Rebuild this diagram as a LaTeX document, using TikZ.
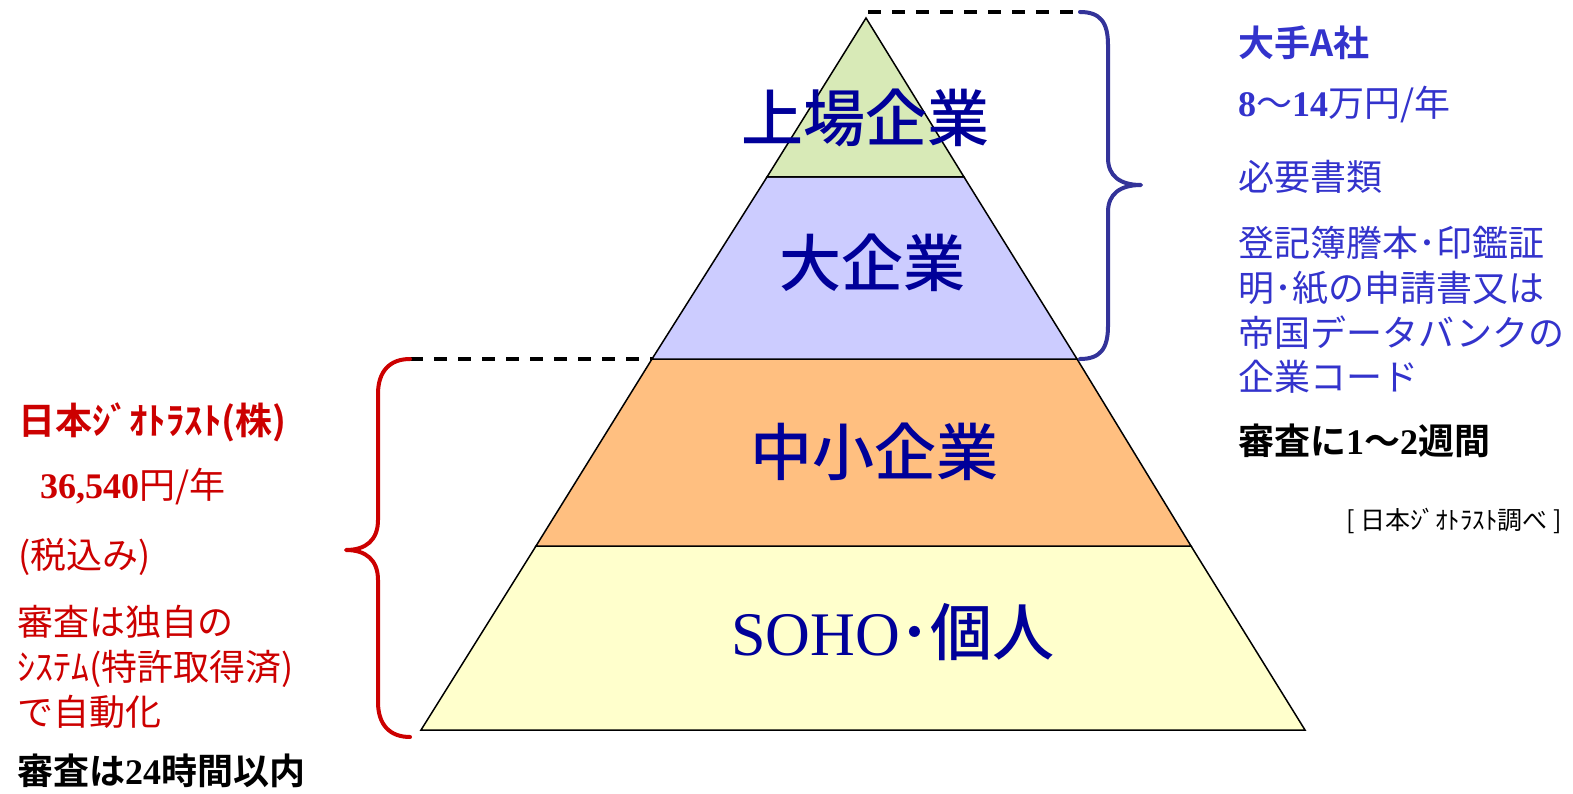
\documentclass[tikz,border=0pt]{standalone}
\usepackage{fontspec}
\setmainfont{Noto Sans CJK JP}[BoldFont={Noto Sans CJK JP Bold}]
\newfontfamily\jp{Noto Sans CJK JP}[BoldFont={Noto Sans CJK JP Bold}]
\newfontfamily\jpmed{Noto Sans CJK JP Medium}
\newfontfamily\tms{Liberation Serif}

\definecolor{blue1}{RGB}{0,0,153}
\definecolor{blue2}{RGB}{51,51,204}
\definecolor{blue3}{RGB}{51,51,153}
\definecolor{red1}{RGB}{204,0,0}
\definecolor{green1}{RGB}{216,234,183}
\definecolor{lav1}{RGB}{204,204,255}
\definecolor{orange1}{RGB}{255,191,128}
\definecolor{yellow1}{RGB}{255,255,204}

\tikzstyle{layer} = [draw=black, line width=1.5pt, line join=miter]
\tikzstyle{layertext} = [text=blue1, inner sep=0pt, font=\jpmed\fontsize{62}{62}\selectfont]
\tikzstyle{bluetext} = [text=blue2, anchor=west, inner sep=0pt, align=left, font=\jp\fontsize{36}{44.7}\selectfont]
\tikzstyle{redtext} = [text=red1, anchor=west, inner sep=0pt, align=left, font=\jp\fontsize{36}{44.7}\selectfont]
\tikzstyle{blacktext} = [text=black, anchor=west, inner sep=0pt, font=\jp\bfseries\fontsize{36}{36}\selectfont]
\tikzstyle{dashline} = [draw=black, line width=3.5pt, dash pattern=on 13pt off 11pt]
\tikzstyle{brace} = [line width=4pt, line cap=round, line join=round]

\begin{document}
\begin{tikzpicture}[x=1pt, y=-1pt]
	\useasboundingbox (0,0) rectangle (1573,794);

	% Pyramid
	\coordinate (apex) at (866,18);
	\coordinate (l1) at (767,177);  \coordinate (r1) at (964,177);
	\coordinate (l2) at (652,359);  \coordinate (r2) at (1077,359);
	\coordinate (l3) at (536,546);  \coordinate (r3) at (1191,546);
	\coordinate (base_l) at (421,730); \coordinate (base_r) at (1305,730);

	\draw [layer, fill=yellow1] (l3) -- (r3) -- (base_r) -- (base_l) -- cycle;
	\draw [layer, fill=orange1] (l2) -- (r2) -- (r3) -- (l3) -- cycle;
	\draw [layer, fill=lav1] (l1) -- (r1) -- (r2) -- (l2) -- cycle;
	\draw [layer, fill=green1] (apex) -- (r1) -- (l1) -- cycle;

	\node [layertext] (listed) at (865,118) {上場企業};
	\node [layertext] (large) at (872,263) {大企業};
	\node [layertext] (sme) at (874,452) {中小企業};
	\node [layertext] (soho) at (893,632) {{\tms SOHO}･個人};

	% Braces
	\coordinate (bbrace_top) at (1080,12);
	\coordinate (bbrace_bot) at (1080,359);
	\coordinate (rbrace_top) at (410,359);
	\coordinate (rbrace_bot) at (410,737);

	\draw [dashline] (868,12) -- (bbrace_top);
	\draw [dashline] (rbrace_top) -- (l2);

	\draw [brace, blue3] (bbrace_top) .. controls (1100,12) and (1108,22) .. (1108,45) -- (1108,158)
		.. controls (1108,176) and (1120,185) .. (1141,185)
		.. controls (1120,185) and (1108,194) .. (1108,212) -- (1108,326)
		.. controls (1108,349) and (1100,359) .. (bbrace_bot);
	\draw [brace, red1] (rbrace_top) .. controls (390,359) and (378,371) .. (378,394) -- (378,520)
		.. controls (378,540) and (366,550) .. (346,550)
		.. controls (366,550) and (378,560) .. (378,580) -- (378,702)
		.. controls (378,725) and (390,737) .. (rbrace_bot);

	% Right side
	\node [bluetext, font=\jp\bfseries\fontsize{36}{36}\selectfont] (company) at (1238,43) {大手A社};
	\node [bluetext] (price_a) at (1238,105) {{\tms\bfseries 8}～{\tms\bfseries 14}万円/年};
	\node [bluetext] (docs) at (1238,177) {必要書類};
	\node [bluetext] (doclist) at (1238,310) {登記簿謄本･印鑑証\\明･紙の申請書又は\\帝国データバンクの\\企業コード};
	\node [blacktext] (review_a) at (1238,441) {審査に{\tms 1}～{\tms 2}週間};
	\node [anchor=west, inner sep=0pt, font=\jp\fontsize{25}{25}\selectfont] (source) at (1346,521) {[ 日本ｼﾞｵﾄﾗｽﾄ調べ ]};

	% Left side
	\node [redtext, font=\jp\bfseries\fontsize{37}{37}\selectfont] (geotrust) at (18,422) {日本ｼﾞｵﾄﾗｽﾄ(株)};
	\node [redtext] (price_g) at (40,487) {{\tms\bfseries 36,540}円/年};
	\node [redtext] (tax) at (18,557) {(税込み)};
	\node [redtext] (method) at (17,667) {審査は独自の\\ｼｽﾃﾑ(特許取得済)\\で自動化};
	\node [blacktext] (review_g) at (17,771) {審査は{\tms 24}時間以内};
\end{tikzpicture}
\end{document}
